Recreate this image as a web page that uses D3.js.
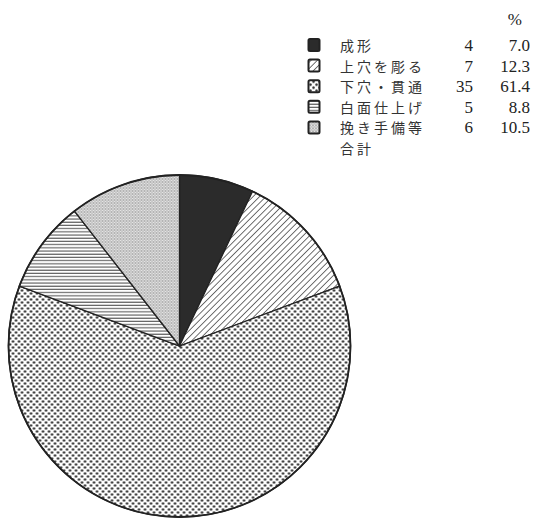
<!DOCTYPE html>
<html>
<head>
<meta charset="utf-8">
<script src="https://cdn.jsdelivr.net/npm/d3@7"></script>
<style>
  html, body { margin: 0; padding: 0; background: #ffffff; }
  svg { display: block; }
</style>
</head>
<body>
<script>
// データ
const categories = ['成形', '上穴を彫る', '下穴・貫通', '白面仕上げ', '挽き手備等'];
const counts = [4, 7, 35, 5, 6];
const percents = ['7.0', '12.3', '61.4', '8.8', '10.5'];
const totalLabel = '合計';
const percentHeader = '%';
const patternIds = ['solid', 'hatch', 'dots', 'hlines', 'stipple'];

const width = 533, height = 521;
const svg = d3.select('body').append('svg')
    .attr('width', width)
    .attr('height', height);

// パターン定義
const defs = svg.append('defs');

const hatch = defs.append('pattern')
    .attr('id', 'hatch')
    .attr('patternUnits', 'userSpaceOnUse')
    .attr('width', 4.5).attr('height', 4.5)
    .attr('patternTransform', 'rotate(45)');
hatch.append('rect').attr('width', 4.5).attr('height', 4.5).attr('fill', '#ffffff');
hatch.append('line')
    .attr('x1', 0).attr('y1', 0).attr('x2', 0).attr('y2', 4.5)
    .attr('stroke', '#333').attr('stroke-width', 1.4);

const dots = defs.append('pattern')
    .attr('id', 'dots')
    .attr('patternUnits', 'userSpaceOnUse')
    .attr('width', 6).attr('height', 6);
dots.append('rect').attr('width', 6).attr('height', 6).attr('fill', '#ffffff');
dots.append('circle').attr('cx', 1.5).attr('cy', 1.5).attr('r', 1.25).attr('fill', '#2a2a2a');
dots.append('circle').attr('cx', 4.5).attr('cy', 4.5).attr('r', 1.25).attr('fill', '#2a2a2a');

const hlines = defs.append('pattern')
    .attr('id', 'hlines')
    .attr('patternUnits', 'userSpaceOnUse')
    .attr('width', 4).attr('height', 3.2);
hlines.append('rect').attr('width', 4).attr('height', 3.2).attr('fill', '#ffffff');
hlines.append('line')
    .attr('x1', 0).attr('y1', 1).attr('x2', 4).attr('y2', 1)
    .attr('stroke', '#444').attr('stroke-width', 1);

const stipple = defs.append('pattern')
    .attr('id', 'stipple')
    .attr('patternUnits', 'userSpaceOnUse')
    .attr('width', 3).attr('height', 3);
stipple.append('rect').attr('width', 3).attr('height', 3).attr('fill', '#e4e4e4');
stipple.append('circle').attr('cx', 1).attr('cy', 1).attr('r', 0.8).attr('fill', '#777');
stipple.append('circle').attr('cx', 2.5).attr('cy', 2.5).attr('r', 0.5).attr('fill', '#999');

const fillFor = id => id === 'solid' ? '#2b2b2b' : `url(#${id})`;

// 円グラフ
const cx = 179.5, cy = 346, radius = 171;
const data = categories.map((c, i) => ({name: c, value: counts[i], pattern: patternIds[i]}));
const pie = d3.pie().sort(null).value(d => d.value);
const arc = d3.arc().innerRadius(0).outerRadius(radius);

const pieG = svg.append('g').attr('transform', `translate(${cx},${cy})`);
pieG.selectAll('path')
    .data(pie(data))
    .enter()
    .append('path')
    .attr('d', arc)
    .attr('fill', d => fillFor(d.data.pattern))
    .attr('stroke', '#222')
    .attr('stroke-width', 1.3);
pieG.append('circle')
    .attr('r', radius)
    .attr('fill', 'none')
    .attr('stroke', '#222')
    .attr('stroke-width', 1.8);

// 凡例
const legendY = d3.scaleLinear().domain([0, 1]).range([51, 71.6]);
const jpFont = '"Noto Sans CJK JP", sans-serif';
const numFont = '"Liberation Serif", serif';

const legend = svg.append('g');
legend.append('text')
    .attr('x', 522).attr('y', 25)
    .attr('text-anchor', 'end')
    .attr('font-family', numFont)
    .attr('font-size', 17)
    .attr('fill', '#222')
    .text(percentHeader);

const rows = legend.selectAll('g.row')
    .data(data)
    .enter()
    .append('g')
    .attr('class', 'row')
    .attr('transform', (d, i) => `translate(0,${legendY(i)})`);

rows.append('rect')
    .attr('x', 308.5).attr('y', -12)
    .attr('width', 11).attr('height', 12)
    .attr('rx', 1.5)
    .attr('fill', d => fillFor(d.pattern))
    .attr('stroke', '#222')
    .attr('stroke-width', 2);

rows.append('text')
    .attr('x', 340).attr('y', 0)
    .attr('font-family', jpFont)
    .attr('font-size', 14)
    .attr('letter-spacing', 3)
    .attr('fill', '#333')
    .text(d => d.name);

rows.append('text')
    .attr('x', 473).attr('y', 0)
    .attr('text-anchor', 'end')
    .attr('font-family', numFont)
    .attr('font-size', 17)
    .attr('fill', '#222')
    .text(d => d.value);

rows.append('text')
    .attr('x', 530).attr('y', 0)
    .attr('text-anchor', 'end')
    .attr('font-family', numFont)
    .attr('font-size', 17)
    .attr('fill', '#222')
    .text((d, i) => percents[i]);

legend.append('text')
    .attr('x', 340).attr('y', legendY(categories.length))
    .attr('font-family', jpFont)
    .attr('font-size', 14)
    .attr('letter-spacing', 3)
    .attr('fill', '#333')
    .text(totalLabel);
</script>
</body>
</html>
